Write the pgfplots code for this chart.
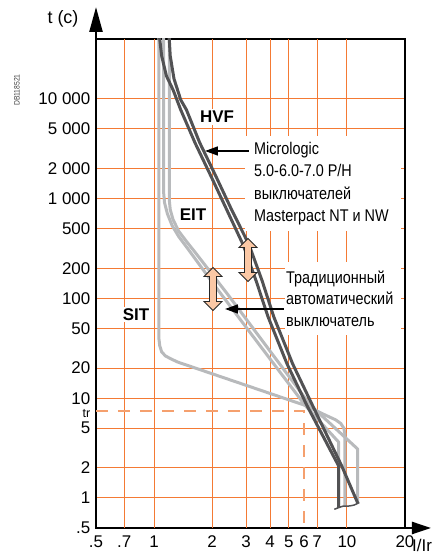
\documentclass[border=0pt]{standalone}
\usepackage{pgfplots}
\pgfplotsset{compat=1.18}
\usepackage{fontspec}
\setmainfont{Liberation Sans}
\newfontfamily\narrowfont{Liberation Sans}[FakeStretch=0.85]
\usetikzlibrary{arrows.meta}
\definecolor{gridorange}{RGB}{244,122,52}
\definecolor{lightcurve}{RGB}{184,186,188}
\definecolor{darkcurve}{RGB}{82,82,84}
\definecolor{peach}{RGB}{251,200,165}
\definecolor{trcol}{RGB}{245,160,110}
\newcommand{\tickfont}{\fontsize{17}{17}\selectfont}
\begin{document}
\begin{tikzpicture}
\path[use as bounding box] (-96bp,-28bp) rectangle (336bp,528bp);
\begin{axis}[
  name=ax, at={(0,0)}, anchor=south west,
  scale only axis, width=309bp, height=489bp,
  xmode=log, ymode=log,
  xmin=0.5, xmax=20, ymin=0.5, ymax=39811,
  xtick={0.5,0.7,1,2,3,4,5,6,7,10,20},
  xticklabels={.5,.7,1,2,3,4,5,6,7,10,20},
  ytick={0.5,1,2,5,10,20,50,100,200,500,1000,2000,5000,10000},
  yticklabels={.5,1,2,5,10,20,50,100,200,500,1 000,2 000,5 000,10 000},
  xminorticks=false, yminorticks=false,
  major tick length=0pt, minor tick length=0pt,
  xmajorgrids=false, ymajorgrids=true,
  major grid style={gridorange, line width=1bp},
  extra x ticks={0.7,1,2,3,4,5,7,10}, extra x tick labels={},
  extra x tick style={grid=major},
  extra y ticks={7.4}, extra y tick labels={tr},
  extra y tick style={grid=none, yticklabel style={yshift=-2bp, font=\fontsize{12.5}{12.5}\selectfont}},
  axis line style={line width=2.4bp},
  ticklabel style={font=\tickfont, text=black},
  y tick label style={inner sep=0.5bp, xshift=-5bp},
  x tick label style={yshift=-4bp},
  clip=true,
]
% tr dashed guide
\addplot[trcol, line width=1.5bp, dash pattern=on 12bp off 10bp] coordinates {(0.5,7.4) (6,7.4) (6,0.5)};
% SIT
\addplot[lightcurve, line width=3bp, line join=round] coordinates {
 (1.058,50000) (1.058,40.5) (1.070,33.6) (1.095,29.1) (1.146,26.5) (1.227,24.7) (1.328,23.0)
 (6.07,8.47) (7.72,6.78) (8.74,6.07) (9.29,5.58) (9.64,5.0) (9.76,4.36) (9.76,0.812)};
% EIT band
\addplot[lightcurve, line width=3bp, line join=round] coordinates {
 (1.120,50000) (1.120,1175) (1.133,912) (1.172,707) (1.241,536) (1.344,415) (1.505,310)
 (2.071,133) (6.07,8.47) (9.06,3.63) (9.06,0.851)};
\addplot[lightcurve, line width=3bp, line join=round] coordinates {
 (1.199,50000) (1.199,977) (1.213,776) (1.255,615) (1.344,470) (1.472,373) (1.630,291)
 (2.407,110) (6.48,8.47) (11.37,3.09) (11.37,0.891)};
% HVF band
\addplot[darkcurve, line width=3bp, line join=round] coordinates {
 (1.068,50000) (1.070,39811) (1.095,26915) (1.159,16982) (1.255,12303) (1.375,7762)
 (1.630,3631) (1.978,1663) (2.380,776) (2.897,344) (3.382,150) (3.905,65.0) (4.89,22.1)
 (6.20,8.47) (9.06,2.09) (9.06,0.794)};
\addplot[darkcurve, line width=3bp, line join=round] coordinates {
 (1.199,50000) (1.199,39811) (1.213,26915) (1.269,15849) (1.375,9772) (1.472,7762)
 (1.725,3631) (2.096,1663) (2.522,776) (3.110,344) (3.634,150) (4.18,65.0) (5.23,22.1)
 (6.63,8.47) (9.40,2.09) (11.37,0.891)};
% bottom squiggle
\addplot[darkcurve, line width=1.5bp, smooth] coordinates {
 (8.6,0.77) (9.06,0.80) (9.6,0.83) (10.2,0.83) (10.9,0.85) (11.6,0.90)};
\end{axis}
\begin{scope}[x=1bp,y=-1bp,shift={(-96bp,528bp)}]
% axis arrows
\draw[line width=2.4bp, -{Triangle[length=25bp,width=13bp]}] (96,41) -- (96,7);
\draw[line width=2.4bp, -{Triangle[length=19bp,width=12bp]}] (403,528) -- (431,528);
% axis titles
\node[font=\fontsize{18}{18}\selectfont] at (63,19) {t (c)};
\node[font=\tickfont, anchor=base west, inner sep=0] at (412,552) {I/Ir};
\node[font=\narrowfont\fontsize{8}{8}\selectfont, text=black!75, rotate=90] at (17,90) {DB118521};
% white boxes behind annotations
\fill[white] (245,136) rectangle (401,231);
\fill[white] (285,262) rectangle (401,335);
% curve names
\node[fill=white, inner sep=2bp, font=\bfseries\fontsize{17}{17}\selectfont] at (217,117) {HVF};
\node[fill=white, inner sep=1.5bp, font=\bfseries\fontsize{17}{17}\selectfont] at (193,215) {EIT};
\node[fill=white, inner sep=1.5bp, font=\bfseries\fontsize{17}{17}\selectfont] at (136,315) {SIT};
% annotations
\begin{scope}[every node/.style={anchor=base west, inner sep=0, font=\narrowfont\fontsize{17}{17}\selectfont}]
\node at (254,155) {Micrologic};
\node at (254,177) {5.0-6.0-7.0 P/H};
\node at (254,200) {выключателей};
\node at (254,222) {Masterpact NT и NW};
\node at (286,283.5) {Традиционный};
\node at (286,305) {автоматический};
\node at (286,326.5) {выключатель};
\end{scope}
\draw[line width=1.6bp, -{Triangle[length=13bp,width=9bp]}] (249,151) -- (205,151);
\draw[line width=1.6bp, -{Triangle[length=13bp,width=9bp]}] (284,309) -- (225,309);
% peach double arrows
\foreach \cx/\cy in {213/289, 248/260} {
  \draw[fill=peach, draw=black!85, line width=0.9bp, line join=miter]
    (\cx,\cy-21.5) -- ++(9,9) -- ++(-5.5,0) -- ++(0,25) -- ++(5.5,0) -- ++(-9,9)
    -- ++(-9,-9) -- ++(5.5,0) -- ++(0,-25) -- ++(-5.5,0) -- cycle;
}
\end{scope}
\end{tikzpicture}
\end{document}
